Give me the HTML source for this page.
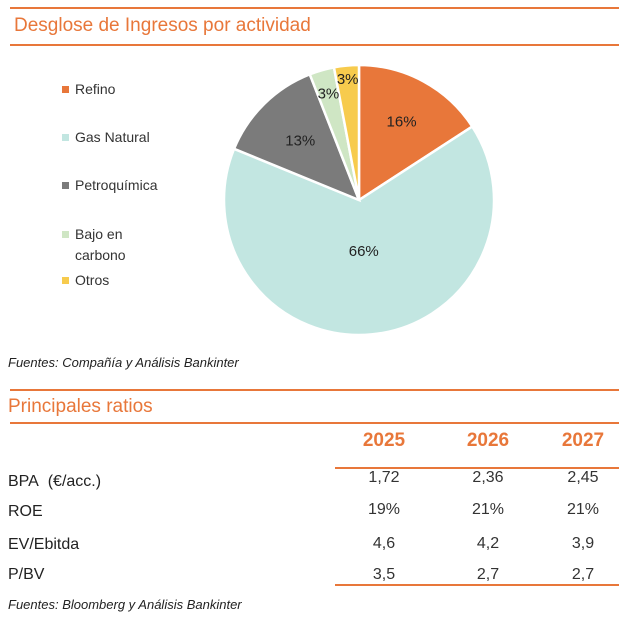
<!DOCTYPE html>
<html><head><meta charset="utf-8">
<style>
body{margin:0;width:624px;height:617px;background:#fff;font-family:"Liberation Sans",sans-serif;position:relative;overflow:hidden}
.abs{position:absolute}
.hl{position:absolute;height:2px;background:#e8773a}
.title{position:absolute;color:#e8773a;font-size:19px;white-space:nowrap}
.lg{position:absolute;font-size:14px;color:#333;left:62px}
.lg i{display:inline-block;width:7px;height:7px;margin-right:6px;vertical-align:1px}
.t{position:absolute;font-size:16px;color:#222;white-space:nowrap}
.v{position:absolute;font-size:16px;color:#333;text-align:center;width:80px}
.y{position:absolute;font-size:19px;color:#e8773a;font-weight:bold;text-align:center;width:80px}
.src{position:absolute;font-size:13px;font-style:italic;color:#222;white-space:nowrap}
</style></head><body>
<div class="hl" style="left:10px;top:7px;width:609px"></div>
<div class="title" style="left:14px;top:15px">Desglose de Ingresos por actividad</div>
<div class="hl" style="left:10px;top:44px;width:609px"></div>

<div class="lg" style="top:81px"><i style="background:#e8773a"></i>Refino</div>
<div class="lg" style="top:129px"><i style="background:#c2e6e1"></i>Gas Natural</div>
<div class="lg" style="top:177px"><i style="background:#7b7b7b"></i>Petroquímica</div>
<div class="lg" style="top:224px;line-height:21px"><i style="background:#cfe6c4"></i>Bajo en<br><span style="margin-left:13px">carbono</span></div>
<div class="lg" style="top:272px"><i style="background:#f7cb4d"></i>Otros</div>

<svg class="abs" style="left:0;top:0" width="624" height="380" id="pie"></svg>

<div class="src" style="left:8px;top:355px">Fuentes: Compañía y Análisis Bankinter</div>

<div class="hl" style="left:10px;top:389px;width:609px"></div>
<div class="title" style="left:8px;top:396px">Principales ratios</div>
<div class="hl" style="left:10px;top:422px;width:609px"></div>

<div class="y" style="left:344px;top:430px">2025</div>
<div class="y" style="left:448px;top:430px">2026</div>
<div class="y" style="left:543px;top:430px">2027</div>
<div class="hl" style="left:335px;top:467px;width:284px"></div>

<div class="t" style="left:8px;top:473px">BPA&nbsp; (€/acc.)</div>
<div class="t" style="left:8px;top:503px">ROE</div>
<div class="t" style="left:8px;top:536px">EV/Ebitda</div>
<div class="t" style="left:8px;top:566px">P/BV</div>

<div class="v" style="left:344px;top:469px">1,72</div>
<div class="v" style="left:448px;top:469px">2,36</div>
<div class="v" style="left:543px;top:469px">2,45</div>
<div class="v" style="left:344px;top:501px">19%</div>
<div class="v" style="left:448px;top:501px">21%</div>
<div class="v" style="left:543px;top:501px">21%</div>
<div class="v" style="left:344px;top:535px">4,6</div>
<div class="v" style="left:448px;top:535px">4,2</div>
<div class="v" style="left:543px;top:535px">3,9</div>
<div class="v" style="left:344px;top:566px">3,5</div>
<div class="v" style="left:448px;top:566px">2,7</div>
<div class="v" style="left:543px;top:566px">2,7</div>
<div class="hl" style="left:335px;top:584px;width:284px"></div>

<div class="src" style="left:8px;top:597px">Fuentes: Bloomberg y Análisis Bankinter</div>

<script>
const categories=["Refino","Gas Natural","Petroquímica","Bajo en carbono","Otros"];
const values=[16,66,13,3,3];
const labels=["16%","66%","13%","3%","3%"];
const colors=["#e8773a","#c2e6e1","#7b7b7b","#cfe6c4","#f7cb4d"];
const svg=document.getElementById('pie');
const NS="http://www.w3.org/2000/svg";
const cx=359,cy=200,r=135;
const total=values.reduce((a,b)=>a+b,0);
function pt(a,rr){return [cx+rr*Math.sin(a),cy-rr*Math.cos(a)];}
let a0=0;
const labelR=[0.66,0.38,0.62,0.82,0.9];
values.forEach((v,i)=>{
  const a1=a0+v/total*2*Math.PI;
  const p0=pt(a0,r),p1=pt(a1,r);
  const large=(a1-a0)>Math.PI?1:0;
  const path=document.createElementNS(NS,'path');
  path.setAttribute('d',`M${cx},${cy}L${p0[0]},${p0[1]}A${r},${r} 0 ${large} 1 ${p1[0]},${p1[1]}Z`);
  path.setAttribute('fill',colors[i]);
  path.setAttribute('stroke','#fff');
  path.setAttribute('stroke-width','2.5');
  
  
  svg.appendChild(path);
  a0=a1;
});
a0=0;
values.forEach((v,i)=>{
  const a1=a0+v/total*2*Math.PI;
  const m=(a0+a1)/2;
  const p=pt(m,r*labelR[i]);
  const t=document.createElementNS(NS,'text');
  t.setAttribute('x',p[0]);t.setAttribute('y',p[1]+5);
  t.setAttribute('text-anchor','middle');
  t.setAttribute('font-size','15');
  t.setAttribute('fill','#222');
  t.setAttribute('font-family','Liberation Sans, sans-serif');
  t.textContent=labels[i];
  
  
  svg.appendChild(t);
  a0=a1;
});
</script>
</body></html>
